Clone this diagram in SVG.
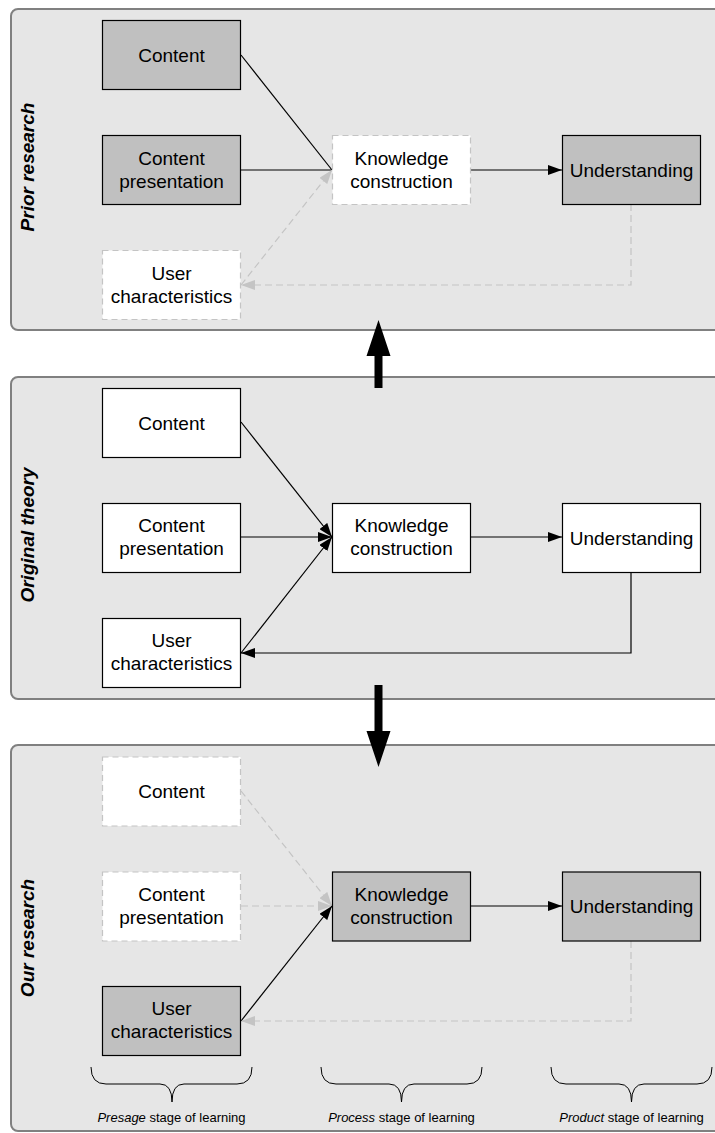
<svg xmlns="http://www.w3.org/2000/svg" width="715" height="1133" viewBox="0 0 715 1133">
<style>
.panel{fill:#e6e6e6;stroke:#808080;stroke-width:2}
.n{stroke:#000;stroke-width:1.2}
.w{fill:#fff}
.g{fill:#c0c0c0}
.d{fill:#fff;stroke:#c4c4c4;stroke-width:1.2;stroke-dasharray:6,4}
.t{font-family:"Liberation Sans",Arial,sans-serif;font-size:19px;fill:#000;text-anchor:middle}
.lab{font-family:"Liberation Sans",Arial,sans-serif;font-size:19px;font-weight:bold;font-style:italic;fill:#000;text-anchor:middle}
.st{font-family:"Liberation Sans",Arial,sans-serif;font-size:13px;fill:#000;text-anchor:middle}
.s{fill:none;stroke:#000;stroke-width:1.2}
.sa{fill:none;stroke:#000;stroke-width:1.2;marker-end:url(#ab)}
.ds{fill:none;stroke:#c4c4c4;stroke-width:1.2;stroke-dasharray:7,4}
.da{fill:none;stroke:#c4c4c4;stroke-width:1.2;stroke-dasharray:7,4;marker-end:url(#ag)}
.br{fill:none;stroke:#000;stroke-width:1}
</style>
<defs>
<marker id="ab" markerUnits="userSpaceOnUse" markerWidth="14" markerHeight="10" refX="14" refY="5" orient="auto"><path d="M0,0 L14,5 L0,10 z" fill="#000"/></marker>
<marker id="ag" markerUnits="userSpaceOnUse" markerWidth="14" markerHeight="10" refX="14" refY="5" orient="auto"><path d="M0,0 L14,5 L0,10 z" fill="#c4c4c4"/></marker>
</defs>

<g id="panels">
<rect class="panel" x="11" y="9" width="730" height="321" rx="7"/>
<rect class="panel" x="11" y="377" width="730" height="322" rx="7"/>
<rect class="panel" x="11" y="745" width="730" height="386" rx="7"/>
<text class="lab" transform="translate(34,167) rotate(-90)">Prior research</text>
<text class="lab" transform="translate(34,535) rotate(-90)">Original theory</text>
<text class="lab" transform="translate(34,938) rotate(-90)">Our research</text>
</g>

<g id="connectors">
<!-- panel 1 -->
<line class="s" x1="241" y1="55" x2="332" y2="170"/>
<line class="s" x1="241" y1="170" x2="332" y2="170"/>
<line class="da" x1="241" y1="285" x2="332" y2="170"/>
<line class="sa" x1="471" y1="170" x2="562" y2="170"/>
<polyline class="da" points="631,204 631,285 241,285"/>
<!-- panel 2 -->
<line class="sa" x1="241" y1="422" x2="332" y2="537"/>
<line class="sa" x1="241" y1="537" x2="332" y2="537"/>
<line class="sa" x1="241" y1="653" x2="332" y2="537"/>
<line class="sa" x1="471" y1="537" x2="562" y2="537"/>
<polyline class="sa" points="631,572 631,653 241,653"/>
<!-- panel 3 -->
<line class="da" x1="241" y1="791" x2="332" y2="906"/>
<line class="da" x1="241" y1="906" x2="332" y2="906"/>
<line class="sa" x1="241" y1="1021" x2="332" y2="906"/>
<line class="sa" x1="471" y1="906" x2="562" y2="906"/>
<polyline class="da" points="631,941 631,1021 241,1021"/>
<!-- big arrows -->
<path d="M378.5,320 L390.5,356 L382.5,356 L382.5,388 L374.5,388 L374.5,356 L366.5,356 z" fill="#000"/>
<path d="M374.5,685 L382.5,685 L382.5,731 L390.5,731 L378.5,767 L366.5,731 L374.5,731 z" fill="#000"/>
</g>

<g id="p1-content"><rect class="n g" x="102.5" y="20.5" width="138" height="69"/><text class="t" x="171.5" y="62">Content</text></g>
<g id="p1-presentation"><rect class="n g" x="102.5" y="135.5" width="138" height="69"/><text class="t" x="171.5" y="165">Content</text><text class="t" x="171.5" y="188">presentation</text></g>
<g id="p1-user"><rect class="d" x="102.5" y="250.5" width="138" height="69"/><text class="t" x="171.5" y="280">User</text><text class="t" x="171.5" y="303">characteristics</text></g>
<g id="p1-knowledge"><rect class="d" x="332.5" y="135.5" width="138" height="69"/><text class="t" x="401.5" y="165">Knowledge</text><text class="t" x="401.5" y="188">construction</text></g>
<g id="p1-understanding"><rect class="n g" x="562.5" y="135.5" width="138" height="69"/><text class="t" x="631.5" y="177">Understanding</text></g>

<g id="p2-content"><rect class="n w" x="102.5" y="388.5" width="138" height="69"/><text class="t" x="171.5" y="430">Content</text></g>
<g id="p2-presentation"><rect class="n w" x="102.5" y="503.5" width="138" height="69"/><text class="t" x="171.5" y="532">Content</text><text class="t" x="171.5" y="555">presentation</text></g>
<g id="p2-user"><rect class="n w" x="102.5" y="618.5" width="138" height="69"/><text class="t" x="171.5" y="647">User</text><text class="t" x="171.5" y="670">characteristics</text></g>
<g id="p2-knowledge"><rect class="n w" x="332.5" y="503.5" width="138" height="69"/><text class="t" x="401.5" y="532">Knowledge</text><text class="t" x="401.5" y="555">construction</text></g>
<g id="p2-understanding"><rect class="n w" x="562.5" y="503.5" width="138" height="69"/><text class="t" x="631.5" y="545">Understanding</text></g>

<g id="p3-content"><rect class="d" x="102.5" y="757" width="138" height="69"/><text class="t" x="171.5" y="798">Content</text></g>
<g id="p3-presentation"><rect class="d" x="102.5" y="872" width="138" height="69"/><text class="t" x="171.5" y="901">Content</text><text class="t" x="171.5" y="924">presentation</text></g>
<g id="p3-user"><rect class="n g" x="102.5" y="986.5" width="138" height="69"/><text class="t" x="171.5" y="1015">User</text><text class="t" x="171.5" y="1038">characteristics</text></g>
<g id="p3-knowledge"><rect class="n g" x="332.5" y="872" width="138" height="69"/><text class="t" x="401.5" y="901">Knowledge</text><text class="t" x="401.5" y="924">construction</text></g>
<g id="p3-understanding"><rect class="n g" x="562.5" y="872" width="138" height="69"/><text class="t" x="631.5" y="913">Understanding</text></g>

<g id="stages">
<path class="br" d="M91,1067 Q91,1084 106,1084 L160,1084 Q172,1084 172,1102 Q172,1084 184,1084 L237,1084 Q252,1084 252,1067"/>
<path class="br" d="M321,1067 Q321,1084 336,1084 L389,1084 Q401.5,1084 401.5,1102 Q401.5,1084 414,1084 L467,1084 Q482,1084 482,1067"/>
<path class="br" d="M551,1067 Q551,1084 566,1084 L619,1084 Q631.5,1084 631.5,1102 Q631.5,1084 644,1084 L697,1084 Q712,1084 712,1067"/>
<text class="st" x="171.5" y="1122"><tspan font-style="italic">Presage</tspan> stage of learning</text>
<text class="st" x="401.5" y="1122"><tspan font-style="italic">Process</tspan> stage of learning</text>
<text class="st" x="631.5" y="1122"><tspan font-style="italic">Product</tspan> stage of learning</text>
</g>
</svg>
